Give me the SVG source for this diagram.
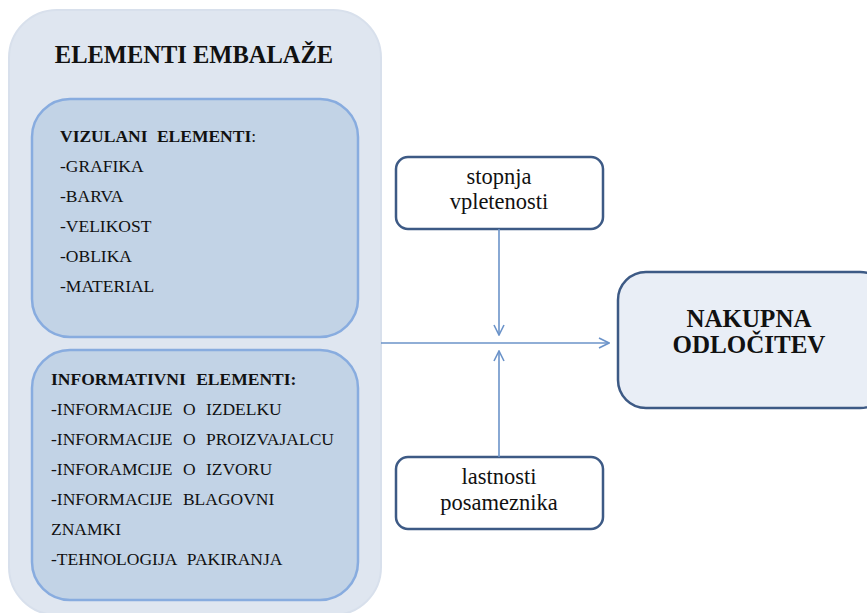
<svg xmlns="http://www.w3.org/2000/svg" width="867" height="613" viewBox="0 0 867 613">
<defs>
<style>
.outer{fill:#dfe6f0;stroke:#d8e0ec;stroke-width:2}
.inner{fill:#c2d3e6;stroke:#88acdf;stroke-width:2.5}
.box{fill:#ffffff;stroke:#3d5a85;stroke-width:2.5}
.res{fill:#e9eef6;stroke:#3d5a85;stroke-width:2.5}
text{font-family:'Liberation Serif','Times New Roman',Tinos,'DejaVu Serif','Noto Serif',serif;fill:#111}
.b{font-weight:bold}
.conn{stroke:#6b93c9;stroke-width:1.6;fill:none}
</style>
<marker id="arr" viewBox="0 0 12 12" refX="11" refY="6" markerWidth="12" markerHeight="12" markerUnits="userSpaceOnUse" orient="auto">
<path d="M1,1 L11,6 L1,11" fill="none" stroke="#6b93c9" stroke-width="1.6"/>
</marker>
</defs>
<rect width="867" height="613" fill="#ffffff"/>
<g id="elementi-embalaze">
<rect class="outer" x="9" y="10" width="372" height="605" rx="48"/>
<text class="b" x="194" y="63" text-anchor="middle" font-size="24.5">ELEMENTI EMBALAŽE</text>
</g>
<g id="vizualni" font-size="17.5">
<rect class="inner" x="32" y="99" width="326" height="238" rx="38"/>
<text x="60" y="142"><tspan class="b" word-spacing="5">VIZULANI ELEMENTI</tspan>:</text>
<text x="60" y="172">-GRAFIKA</text>
<text x="60" y="202">-BARVA</text>
<text x="60" y="232">-VELIKOST</text>
<text x="60" y="262">-OBLIKA</text>
<text x="60" y="292">-MATERIAL</text>
</g>
<g id="informativni" font-size="17.5" word-spacing="6">
<rect class="inner" x="32" y="350" width="326" height="250" rx="38"/>
<text class="b" x="51" y="385">INFORMATIVNI ELEMENTI:</text>
<text x="51" y="415">-INFORMACIJE O IZDELKU</text>
<text x="51" y="445">-INFORMACIJE O PROIZVAJALCU</text>
<text x="51" y="475">-INFORAMCIJE O IZVORU</text>
<text x="51" y="505">-INFORMACIJE BLAGOVNI</text>
<text x="51" y="535">ZNAMKI</text>
<text x="51" y="565">-TEHNOLOGIJA PAKIRANJA</text>
</g>
<g id="stopnja" font-size="22.5">
<rect class="box" x="396" y="157" width="207" height="72" rx="12"/>
<text text-anchor="middle" x="499" y="184">stopnja</text>
<text text-anchor="middle" x="499" y="209">vpletenosti</text>
</g>
<g id="lastnosti" font-size="22.5">
<rect class="box" x="396" y="457" width="207" height="72" rx="12"/>
<text text-anchor="middle" x="499" y="484">lastnosti</text>
<text text-anchor="middle" x="499" y="510">posameznika</text>
</g>
<g id="nakupna" font-size="25">
<rect class="res" x="618" y="272" width="270" height="136" rx="28"/>
<text class="b" text-anchor="middle" x="749" y="327">NAKUPNA</text>
<text class="b" text-anchor="middle" x="749" y="353">ODLOČITEV</text>
</g>
<g id="connectors">
<line class="conn" x1="381" y1="343" x2="609" y2="343" marker-end="url(#arr)"/>
<line class="conn" x1="499" y1="229" x2="499" y2="335" marker-end="url(#arr)"/>
<line class="conn" x1="499" y1="457" x2="499" y2="351" marker-end="url(#arr)"/>
</g>
</svg>
